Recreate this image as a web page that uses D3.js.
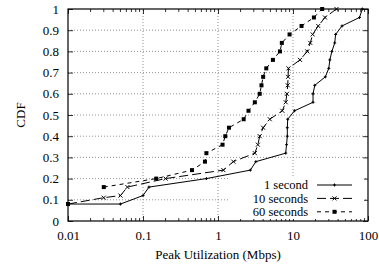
<!DOCTYPE html>
<html lang="en">
<head>
    <meta charset="UTF-8">
    <title>Peak Utilization CDF</title>
    <script src="https://cdn.jsdelivr.net/npm/d3@7"></script>
    <style>
        body { margin: 0; background: white; }
        svg text { font-family: "Liberation Serif", serif; fill: black; }
    </style>
</head>
<body>
    <div id="chart"></div>
    <script>
        // ---- data (Mbps, CDF) ----
        const seriesNames = ["1 second", "10 seconds", "60 seconds"];

        const oneSecond = [
            [0.01, 0.08], [0.05, 0.08], [0.1, 0.12], [0.12, 0.16], [0.7, 0.20],
            [2.7, 0.24], [3.2, 0.28], [8.0, 0.32], [8.2, 0.36], [8.4, 0.40],
            [8.4, 0.44], [8.5, 0.48], [10.5, 0.52], [18.5, 0.56], [18.5, 0.60],
            [19.5, 0.64], [27, 0.68], [30, 0.72], [31, 0.76], [33, 0.80],
            [36, 0.84], [37, 0.88], [45, 0.92], [77, 0.96], [84, 1.0]
        ];

        const tenSeconds = [
            [0.01, 0.08], [0.03, 0.11], [0.05, 0.12], [0.062, 0.16], [0.2, 0.20],
            [1.18, 0.24], [1.6, 0.28], [3.1, 0.32], [3.4, 0.36], [3.6, 0.40],
            [4.0, 0.44], [4.9, 0.48], [7.2, 0.52], [8.0, 0.56], [8.3, 0.60],
            [8.5, 0.64], [8.6, 0.68], [8.7, 0.72], [12.4, 0.76], [15.5, 0.80],
            [17, 0.84], [18.3, 0.88], [21.7, 0.92], [26.7, 0.96], [38, 1.0]
        ];

        const sixtySeconds = [
            [0.01, 0.08], [null, 0.12], [0.03, 0.16], [0.15, 0.20], [0.45, 0.24],
            [0.67, 0.28], [0.70, 0.32], [1.15, 0.36], [1.25, 0.40], [1.4, 0.44],
            [2.2, 0.48], [2.55, 0.52], [3.1, 0.56], [3.6, 0.60], [3.8, 0.64],
            [4.0, 0.68], [4.4, 0.72], [5.4, 0.76], [6.7, 0.80], [7.1, 0.84],
            [9.0, 0.88], [13, 0.92], [19, 0.96], [24.5, 1.0]
        ];

        const xTicks = [0.01, 0.1, 1, 10, 100];
        const yTicks = [0, 0.1, 0.2, 0.3, 0.4, 0.5, 0.6, 0.7, 0.8, 0.9, 1];

        /*------------------- layout -------------------*/
        const width = 379, height = 267;
        const margin = { top: 9, right: 11, bottom: 46, left: 68 };
        const serif = "'Liberation Serif', serif";

        const svg = d3.select("#chart").append("svg")
            .attr("width", width).attr("height", height)
            .attr("font-family", serif);

        const x = d3.scaleLog().domain([0.01, 100]).range([margin.left, width - margin.right]);
        const y = d3.scaleLinear().domain([0, 1]).range([height - margin.bottom, margin.top]);

        const x0 = x.range()[0], x1 = x.range()[1];
        const y0 = y.range()[0], y1 = y.range()[1];

        // grid
        const grid = svg.append("g")
            .attr("stroke", "#777").attr("stroke-width", 0.8).attr("stroke-dasharray", "1,2");
        grid.selectAll(".gx").data(xTicks.slice(1, -1)).enter().append("line")
            .attr("x1", d => x(d)).attr("x2", d => x(d)).attr("y1", y0).attr("y2", y1);
        grid.selectAll(".gy").data(yTicks.slice(1, -1)).enter().append("line")
            .attr("x1", x0).attr("x2", x1).attr("y1", d => y(d)).attr("y2", d => y(d));

        // minor x ticks (2..9 in each decade), bottom and top
        const minor = x.ticks().filter(d => !xTicks.includes(d));
        const mt = svg.append("g").attr("stroke", "black").attr("stroke-width", 0.8);
        minor.forEach(d => {
            mt.append("line").attr("x1", x(d)).attr("x2", x(d)).attr("y1", y0).attr("y2", y0 - 3);
            mt.append("line").attr("x1", x(d)).attr("x2", x(d)).attr("y1", y1).attr("y2", y1 + 3);
        });

        // axes with inward ticks
        const styleAxis = g => {
            g.attr("font-family", serif);
            g.select(".domain").remove();
            g.selectAll("line").attr("stroke-width", 0.8);
            g.selectAll("text").attr("font-size", 13).attr("font-family", serif);
        };
        const fmtX = d => d >= 1 ? d3.format("d")(d) : String(d);

        svg.append("g").attr("transform", `translate(0,${y0})`)
            .call(d3.axisBottom(x).tickValues(xTicks).tickFormat(fmtX).tickSize(-5).tickPadding(10))
            .call(styleAxis);
        svg.append("g").attr("transform", `translate(0,${y1})`)
            .call(d3.axisTop(x).tickValues(xTicks).tickFormat("").tickSize(-5))
            .call(styleAxis);
        svg.append("g").attr("transform", `translate(${x0},0)`)
            .call(d3.axisLeft(y).tickValues(yTicks).tickFormat(d => d === 0 || d === 1 ? d : d3.format(".1f")(d)).tickSize(-5).tickPadding(9))
            .call(styleAxis);
        svg.append("g").attr("transform", `translate(${x1},0)`)
            .call(d3.axisRight(y).tickValues(yTicks).tickFormat("").tickSize(-5))
            .call(styleAxis);

        // series
        const series = [
            { name: seriesNames[0], data: oneSecond, dash: null, marker: "plus" },
            { name: seriesNames[1], data: tenSeconds, dash: "9,4", marker: "cross" },
            { name: seriesNames[2], data: sixtySeconds, dash: "4,4", marker: "square" }
        ];

        const line = d3.line()
            .defined(d => d[0] !== null)
            .x(d => x(d[0])).y(d => y(d[1]));

        function drawMarker(g, type, cx, cy) {
            if (type === "plus") {
                g.append("path").attr("d", `M${cx - 1.5},${cy}H${cx + 1.5}M${cx},${cy - 1.5}V${cy + 1.5}`)
                    .attr("stroke", "black").attr("stroke-width", 1);
            } else if (type === "cross") {
                g.append("path").attr("d", `M${cx - 2},${cy - 2}L${cx + 2},${cy + 2}M${cx - 2},${cy + 2}L${cx + 2},${cy - 2}`)
                    .attr("stroke", "black").attr("stroke-width", 1);
            } else {
                g.append("rect").attr("x", cx - 2).attr("y", cy - 2).attr("width", 4).attr("height", 4)
                    .attr("fill", "black");
            }
        }

        const plot = svg.append("g");
        series.forEach(s => {
            plot.append("path")
                .datum(s.data)
                .attr("d", line)
                .attr("fill", "none")
                .attr("stroke", "black")
                .attr("stroke-width", 1)
                .attr("stroke-dasharray", s.dash);
            const mg = plot.append("g");
            s.data.filter(d => d[0] !== null).forEach(d => drawMarker(mg, s.marker, x(d[0]), y(d[1])));
        });

        // legend (opaque key)
        const key = svg.append("g");
        key.append("rect").attr("x", 229).attr("y", 177).attr("width", 135).attr("height", 42).attr("fill", "white");
        series.forEach((s, i) => {
            const ly = 185 + i * 13.4;
            key.append("text").attr("x", 308).attr("y", ly).attr("dy", "0.35em")
                .attr("text-anchor", "end").attr("font-size", 12.5).attr("font-family", serif).text(s.name);
            key.append("line").attr("x1", 317).attr("x2", 352).attr("y1", ly).attr("y2", ly)
                .attr("stroke", "black").attr("stroke-width", 1).attr("stroke-dasharray", s.dash);
            drawMarker(key, s.marker, 334.5, ly);
        });

        // border
        svg.append("rect").attr("x", x0).attr("y", y1).attr("width", x1 - x0).attr("height", y0 - y1)
            .attr("fill", "none").attr("stroke", "black").attr("stroke-width", 1.2);

        // axis titles
        svg.append("text").attr("x", (x0 + x1) / 2).attr("y", 259)
            .attr("text-anchor", "middle").attr("font-size", 13).attr("font-family", serif)
            .text("Peak Utilization (Mbps)");
        svg.append("text").attr("transform", `translate(25,${(y0 + y1) / 2}) rotate(-90)`)
            .attr("text-anchor", "middle").attr("font-size", 13).attr("font-family", serif)
            .text("CDF");
    </script>
</body>
</html>
